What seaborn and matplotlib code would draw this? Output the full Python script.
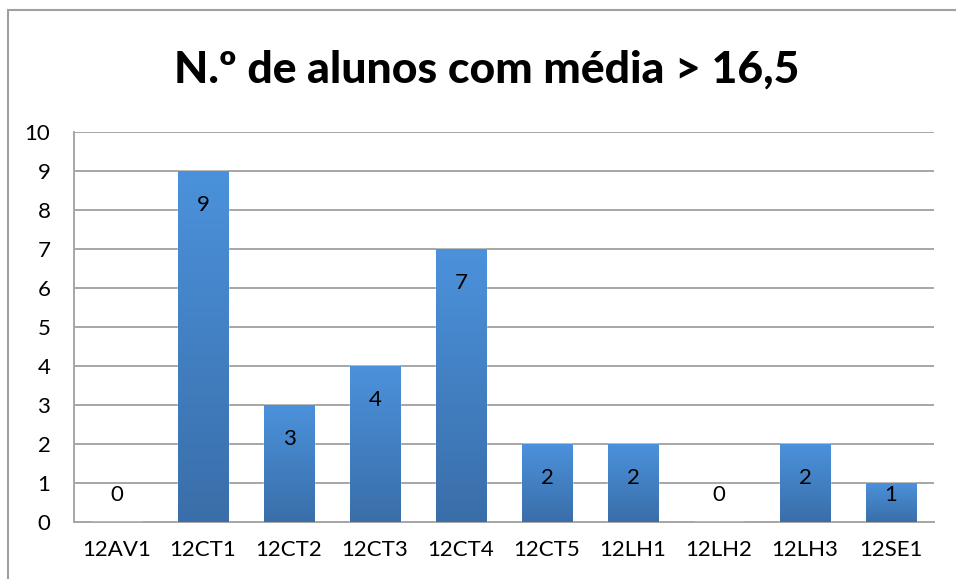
import numpy as np
import pandas as pd
import matplotlib
matplotlib.use("Agg")
import matplotlib.pyplot as plt
import seaborn as sns
from matplotlib.colors import LinearSegmentedColormap
from matplotlib.patches import Rectangle

# dados
turmas = ["12AV1", "12CT1", "12CT2", "12CT3", "12CT4",
          "12CT5", "12LH1", "12LH2", "12LH3", "12SE1"]
alunos = [0, 9, 3, 4, 7, 2, 2, 0, 2, 1]
titulo = "N.º de alunos com média > 16,5"

df = pd.DataFrame({"turma": turmas, "alunos": alunos})

sns.set_style("white")
plt.rcParams["font.family"] = ["Lato", "DejaVu Sans"]

fig = plt.figure(figsize=(9.56, 5.79), dpi=100)
ax = fig.add_axes([0.0774, 0.0984, 0.8996, 0.6736])

sns.barplot(data=df, x="turma", y="alunos", color="#4a8fd8",
            width=0.59, ax=ax, zorder=3)

# gradiente nas barras (mais claro em cima, mais escuro em baixo)
cmap = LinearSegmentedColormap.from_list("barra", ["#3a6ea9", "#4b92dc"])
grad = np.linspace(0, 1, 256).reshape(-1, 1)
for p in ax.patches:
    h = p.get_height()
    if h <= 0:
        continue
    x0 = p.get_x()
    w = p.get_width()
    im = ax.imshow(grad, cmap=cmap, origin="lower", aspect="auto",
                   extent=[x0, x0 + w, 0, h], zorder=4)
    im.set_clip_path(p)
    p.set_facecolor("none")

# rótulos
for i, v in enumerate(alunos):
    y = max(v - 0.87, 0.69)
    ax.text(i, y, str(v), ha="center", va="center", fontsize=16,
            color="black", zorder=6)

ax.set_xlim(-0.5, len(turmas) - 0.5)
ax.set_ylim(0, 10)
ax.set_yticks(range(0, 11))
ax.set_xlabel("")
ax.set_ylabel("")
ax.yaxis.grid(True, color="#a6a6a6", linewidth=1.4, zorder=0)
ax.set_axisbelow(True)
for s in ["top", "right"]:
    ax.spines[s].set_visible(False)
for s in ["left", "bottom"]:
    ax.spines[s].set_color("#a6a6a6")
    ax.spines[s].set_linewidth(1.4)
ax.tick_params(axis="y", length=0, pad=17, labelsize=16, labelcolor="black")
ax.tick_params(axis="x", length=0, pad=13, labelsize=16, labelcolor="black")

fig.text(0.509, 0.879, titulo, ha="center", va="center",
         fontsize=32, fontweight="black", color="black")

# moldura do gráfico
fig.patches.append(Rectangle((8 / 956, -0.05), 1.2, 1 - 10 / 579 + 0.05,
                             transform=fig.transFigure, fill=False,
                             edgecolor="#a0a0a0", linewidth=1.5))

fig.savefig("out.png", dpi=100)
